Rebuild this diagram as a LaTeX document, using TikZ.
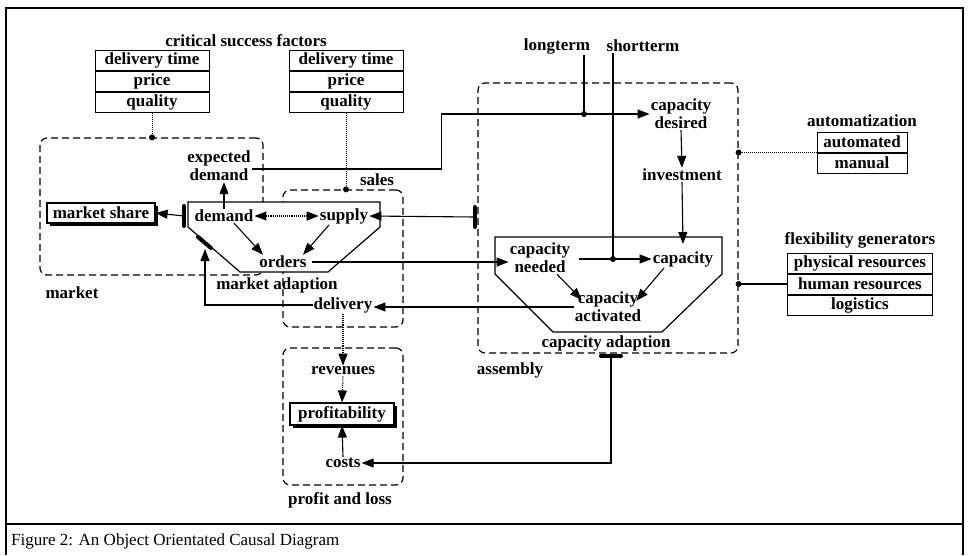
\documentclass[tikz,border=0pt]{standalone}
\usepackage{fontspec}
\setmainfont{Liberation Serif}
\usepackage{tikz}
\usetikzlibrary{positioning, arrows.meta, shadows}

\begin{document}
\begin{tikzpicture}[x=1pt, y=-1pt,
    font=\fontsize{17}{18}\selectfont\bfseries,
    lbl/.style={inner sep=1pt, align=center},
    cell/.style={draw, line width=1pt, minimum height=20pt, inner sep=0pt, fill=white},
    group/.style={draw, dash pattern=on 7pt off 4pt, line width=1.2pt, rounded corners=7pt, inner sep=0pt},
    trap/.style={draw, line width=1.2pt, fill=white},
    arr/.style={line width=1.1pt, -{Triangle[length=12pt, width=9pt]}},
    darr/.style={line width=1.1pt, {Triangle[length=12pt, width=9pt]}-{Triangle[length=12pt, width=9pt]}},
    link/.style={line width=1pt, densely dotted},
    bar/.style={line width=4pt, line cap=round},
    dot/.style={circle, fill, inner sep=0pt, minimum size=6pt},
    shadowbox/.style={draw, line width=1.2pt, fill=white, inner sep=0pt,
      drop shadow={shadow xshift=3pt, shadow yshift=-3pt, fill=black, opacity=1}}]
  \useasboundingbox (0,0) rectangle (968,555);

  % frame and caption
  \draw[line width=1.3pt] (6,555) -- (6,8) -- (963,8) -- (963,555);
  \draw[line width=1.6pt] (6,524) -- (963,524);
  \node[anchor=west, inner sep=0pt, font=\fontsize{17}{18}\selectfont] (caption) at (11,541)
    {Figure 2: An Object Orientated Causal Diagram};

  % object boundaries
  \node[group, minimum width=223pt, minimum height=137pt] (market) at (151.5,206.5) {};
  \node[group, minimum width=120pt, minimum height=137pt] (sales) at (343,258.5) {};
  \node[group, minimum width=120pt, minimum height=137pt] (pl) at (343,416.5) {};
  \node[group, minimum width=260pt, minimum height=270pt] (assembly) at (608,218) {};

  % adaption processes
  \draw[trap] (188,202) -- (380,202) -- (380,227) -- (328,272) -- (240,272) -- (188,227) -- cycle;
  \draw[trap] (495,237) -- (722,237) -- (722,274) -- (662,332) -- (553,332) -- (495,274) -- cycle;

  % critical success factors
  \node[lbl] (csf) at (246,41) {critical success factors};
  \node[cell, minimum width=114pt] (q1a) at (152,60) {delivery time};
  \node[cell, minimum width=114pt, below=0pt of q1a] (q1b) {price};
  \node[cell, minimum width=114pt, below=0pt of q1b] (q1c) {quality};
  \node[cell, minimum width=114pt] (q2a) at (346,60) {delivery time};
  \node[cell, minimum width=114pt, below=0pt of q2a] (q2b) {price};
  \node[cell, minimum width=114pt, below=0pt of q2b] (q2c) {quality};
  \draw[link] (q1c.south) -- (q1c.south |- market.north) node[dot] (q1dot) {};
  \draw[link] (q2c.south) -- (q2c.south |- sales.north) node[dot] (q2dot) {};

  % market and sales
  \node[shadowbox, minimum width=108pt, minimum height=20pt] (mshare) at (101,213) {market share};
  \node[lbl] (expdemand) at (219,166) {expected\\demand};
  \node[lbl] (demand) at (224,216) {demand};
  \node[lbl] (supply) at (344,216) {supply};
  \node[lbl] (orders) at (283,262) {orders};
  \node[lbl] (mlabel) at (72,293) {market};
  \node[lbl] (madapt) at (277,285) {market adaption};
  \node[lbl] (saleslbl) at (377,180) {sales};
  \node[lbl] (delivery) at (343,305) {delivery};

  % profit and loss
  \node[lbl] (revenues) at (343,371) {revenues};
  \node[shadowbox, minimum width=104pt, minimum height=22pt] (profit) at (342,414) {profitability};
  \node[lbl] (costs) at (343,463) {costs};
  \node[lbl] (pllabel) at (340,500) {profit and loss};

  % assembly
  \node[lbl] (longterm) at (557,46) {longterm};
  \node[lbl] (shortterm) at (643,46) {shortterm};
  \node[lbl] (capdesired) at (681,114) {capacity\\desired};
  \node[lbl] (investment) at (682,175) {investment};
  \node[lbl] (capneeded) at (540,258) {capacity\\needed};
  \node[lbl] (capacity) at (683,259) {capacity};
  \node[lbl] (capactivated) at (608,307) {capacity\\activated};
  \node[lbl] (capadapt) at (606,343) {capacity adaption};
  \node[lbl] (asmlabel) at (510,370) {assembly};

  % generators
  \node[lbl] (autotitle) at (862,121) {automatization};
  \node[cell, minimum width=90pt] (auto1) at (862,142) {automated};
  \node[cell, minimum width=90pt, below=0pt of auto1] (auto2) {manual};
  \node[lbl] (flextitle) at (860,240) {flexibility generators};
  \node[cell, minimum width=145pt] (flex1) at (860,263) {physical resources};
  \node[cell, minimum width=145pt, below=0pt of flex1] (flex2) {human resources};
  \node[cell, minimum width=145pt, below=0pt of flex2] (flex3) {logistics};
  \draw[link] (auto1.south west) -- (auto1.south west -| assembly.east) node[dot] (autodot) {};
  \draw[line width=1.1pt] (flex2.west) -- (flex2.west -| assembly.east) node[dot] (flexdot) {};

  % causal links
  \coordinate (mbar) at (184,216);
  \coordinate (madin) at (205,249);
  \coordinate (sbar) at (475,217);
  \coordinate (captop) at (683,244);
  \coordinate (abar) at (611,356);
  \draw[bar] (184,206) -- (184,226);
  \draw[bar] (198,237) -- (211,248);
  \draw[bar] (475,207) -- (475,227);
  \draw[bar] (601,356) -- (621,356);
  \draw[arr] (mbar) -- (mshare.east);
  \draw[arr] (demand.north) -- (demand.north |- expdemand.south);
  \draw[arr] ([yshift=-3pt]expdemand.east) -- ++(190,0) |- (capdesired.west);
  \draw[line width=1.1pt] ([xshift=27pt]longterm.south) -- ([xshift=27pt]longterm.south |- capdesired.west) node[dot] (ltdot) {};
  \draw[darr, densely dotted] (demand.east) -- (supply.west);
  \draw[arr] ([xshift=10pt]demand.south) -- ([xshift=-20pt]orders.north);
  \draw[arr] ([xshift=-15pt]supply.south) -- ([xshift=20pt]orders.north);
  \draw[arr] (sbar) -- (supply.east);
  \draw[arr] ([xshift=4pt]orders.east) -- (orders.east -| capneeded.west);
  \draw[arr] (capactivated.west) -- (capactivated.west -| delivery.east);
  \draw[arr] (delivery.west) -| (madin);
  \draw[arr, densely dotted] (delivery.south) -- (revenues.north);
  \draw[arr, densely dotted] (revenues.south) -- (profit.north);
  \draw[arr] (costs.north) -- (profit.south);
  \draw[arr] (abar) |- (costs.east);
  \draw[arr] (capdesired.south) -- (investment.north);
  \draw[arr] (investment.south) -- (captop);
  \draw[arr] ([xshift=8pt]capneeded.east |- capacity.west) -- (capacity.west);
  \draw[line width=1.1pt] ([xshift=-30pt]shortterm.south) -- ([xshift=-30pt]shortterm.south |- capacity.west) node[dot] (stdot) {};
  \draw[arr] ([xshift=17pt]capneeded.south) -- ([xshift=8pt, yshift=-9pt]capactivated.north west);
  \draw[arr] ([xshift=-19pt]capacity.south) -- ([xshift=-6pt, yshift=-10pt]capactivated.north east);
\end{tikzpicture}
\end{document}
